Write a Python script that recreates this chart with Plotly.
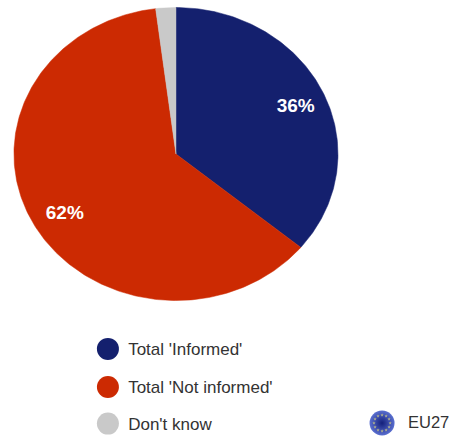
import numpy as np
import plotly.graph_objects as go

categories = ["Total 'Informed'", "Total 'Not informed'", "Don't know"]
shares = [36, 62, 2]
slice_colors = ["#14206e", "#cc2a02", "#c9c9c9"]
labelled = [True, True, False]
scope_label = "EU27"

FONT = "Liberation Sans, Arial, sans-serif"
TEXT = "#333333"
fig = go.Figure()

# Slices run clockwise from twelve o'clock on a unit circle; the axis ranges set the oval shape.
start = 0.0
for name, share, color, show_label in zip(categories, shares, slice_colors, labelled):
    end = start + share / sum(shares) * 2 * np.pi
    theta = np.linspace(start, end, max(int(share * 4), 8))
    x = np.concatenate([[0], np.sin(theta), [0]])
    y = np.concatenate([[0], np.cos(theta), [0]])
    fig.add_trace(go.Scatter(x=x, y=y, mode="lines", fill="toself", fillcolor=color,
                             line=dict(color=color, width=0.5), showlegend=False,
                             hoverinfo="text", text=f"{name}: {share}%"))
    if show_label:
        mid = (start + end) / 2
        fig.add_trace(go.Scatter(x=[0.8 * np.sin(mid) + 0.015], y=[0.8 * np.cos(mid) - 0.023], mode="text",
                                 text=[f"{share}%"], showlegend=False, hoverinfo="skip",
                                 textfont=dict(family=FONT, size=19, color="white", weight="bold")))
    start = end

# Key below the pie: one disc and one caption per category.
key_x = -0.42
key_y = [-1.33, -1.59, -1.84]
fig.add_trace(go.Scatter(x=[key_x] * 3, y=key_y, mode="markers", showlegend=False, hoverinfo="skip",
                         marker=dict(color=slice_colors, size=22)))
fig.add_trace(go.Scatter(x=[key_x + 0.125] * 3, y=[v - 0.012 for v in key_y], mode="text", text=categories,
                         textposition="middle right", showlegend=False, hoverinfo="skip",
                         textfont=dict(family=FONT, size=17, color=TEXT)))

# Scope badge: a blue disc ringed with small yellow stars.
badge_x, badge_y = 1.272, -1.836
fig.add_trace(go.Scatter(x=[badge_x], y=[badge_y], mode="markers", showlegend=False, hoverinfo="skip",
                         marker=dict(size=25, color="#5a6fd0", line=dict(width=0),
                                     gradient=dict(type="radial", color="#14207a"))))
ring = np.arange(12) * np.pi / 6
fig.add_trace(go.Scatter(x=badge_x + 0.05 * np.cos(ring), y=badge_y + 0.055 * np.sin(ring),
                         mode="markers", showlegend=False, hoverinfo="skip",
                         marker=dict(symbol="star", size=2.5, color="#b9b98a")))
fig.add_trace(go.Scatter(x=[badge_x + 0.16], y=[badge_y - 0.005], mode="text", text=[scope_label],
                         textposition="middle right", showlegend=False, hoverinfo="skip",
                         textfont=dict(family=FONT, size=16.5, color=TEXT)))

fig.update_layout(
    width=454, height=439, margin=dict(l=0, r=0, t=0, b=0),
    paper_bgcolor="white", plot_bgcolor="white", showlegend=False,
    xaxis=dict(range=[-1.086, 1.716], visible=False, fixedrange=True),
    yaxis=dict(range=[-1.945, 1.051], visible=False, fixedrange=True),
)

fig.write_html("out.html", config=dict(displayModeBar=False))
